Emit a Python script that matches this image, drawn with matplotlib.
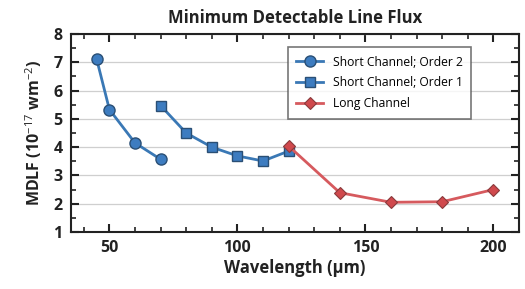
import matplotlib
matplotlib.use("Agg")
import matplotlib.pyplot as plt
from matplotlib.ticker import MultipleLocator

plt.rcParams['font.family'] = ['Open Sans', 'DejaVu Sans']
plt.rcParams['mathtext.fontset'] = 'custom'
plt.rcParams['mathtext.rm'] = 'Open Sans'
plt.rcParams['mathtext.it'] = 'Open Sans'
plt.rcParams['mathtext.bf'] = 'Open Sans:bold'

x_o2 = [45, 50, 60, 70]
y_o2 = [7.12, 5.33, 4.15, 3.57]
x_o1 = [70, 80, 90, 100, 110, 120]
y_o1 = [5.47, 4.5, 4.0, 3.69, 3.51, 3.86]
x_long = [120, 140, 160, 180, 200]
y_long = [4.04, 2.39, 2.05, 2.07, 2.5]

blue = '#3a78b5'
blue_face = '#3d7cc0'
red = '#d65a5e'
red_face = '#d0494d'

fig = plt.figure(figsize=(5.25, 2.89), dpi=100)
ax = fig.add_axes([71/525, 1-232/289, 448/525, 198/289])

ax.plot(x_o2, y_o2, '-o', color=blue, lw=2, ms=8, mfc=blue_face, mec='#2a4f75', mew=1,
        label='Short Channel; Order 2', zorder=3)
ax.plot(x_o1, y_o1, '-s', color=blue, lw=2, ms=7.5, mfc=blue_face, mec='#2a4f75', mew=1,
        label='Short Channel; Order 1', zorder=3)
ax.plot(x_long, y_long, '-D', color=red, lw=2, ms=6.5, mfc=red_face, mec='#8a3a3c', mew=0.8,
        label='Long Channel', zorder=4)

ax.set_xlim(35, 210)
ax.set_ylim(1, 8)
ax.xaxis.set_major_locator(MultipleLocator(50))
ax.xaxis.set_minor_locator(MultipleLocator(10))
ax.yaxis.set_major_locator(MultipleLocator(1))
ax.yaxis.set_minor_locator(MultipleLocator(0.5))
ax.grid(axis='y', which='major', color='#cfcfcf', lw=0.9, zorder=0)
ax.tick_params(which='both', direction='in', top=True, right=True, color='#222222')
ax.tick_params(which='major', length=6, width=1.5, labelsize=11.5, pad=6)
ax.tick_params(which='minor', length=3.5, width=1.2)
for lab in ax.get_xticklabels() + ax.get_yticklabels():
    lab.set_fontweight('bold')
    lab.set_color('#222222')
for sp in ax.spines.values():
    sp.set_linewidth(1.5)
    sp.set_color('#222222')

ax.set_title('Minimum Detectable Line Flux', fontsize=12, fontweight='bold', pad=8, color='#222222')
ax.set_xlabel('Wavelength (μm)', fontsize=12, fontweight='bold', labelpad=2, color='#222222')
ax.set_ylabel('MDLF (10$^{-17}$ wm$^{-2}$)', fontsize=11.5, fontweight='bold',
              labelpad=7, color='#222222')

leg = ax.legend(loc='upper left', bbox_to_anchor=(0.484, 0.934), borderaxespad=0,
                fontsize=8.7, frameon=True,
                fancybox=False, edgecolor='#555555', handlelength=2.2, borderpad=0.7,
                labelspacing=0.65)
leg.get_frame().set_linewidth(1.2)

fig.savefig('out.png', dpi=100)
